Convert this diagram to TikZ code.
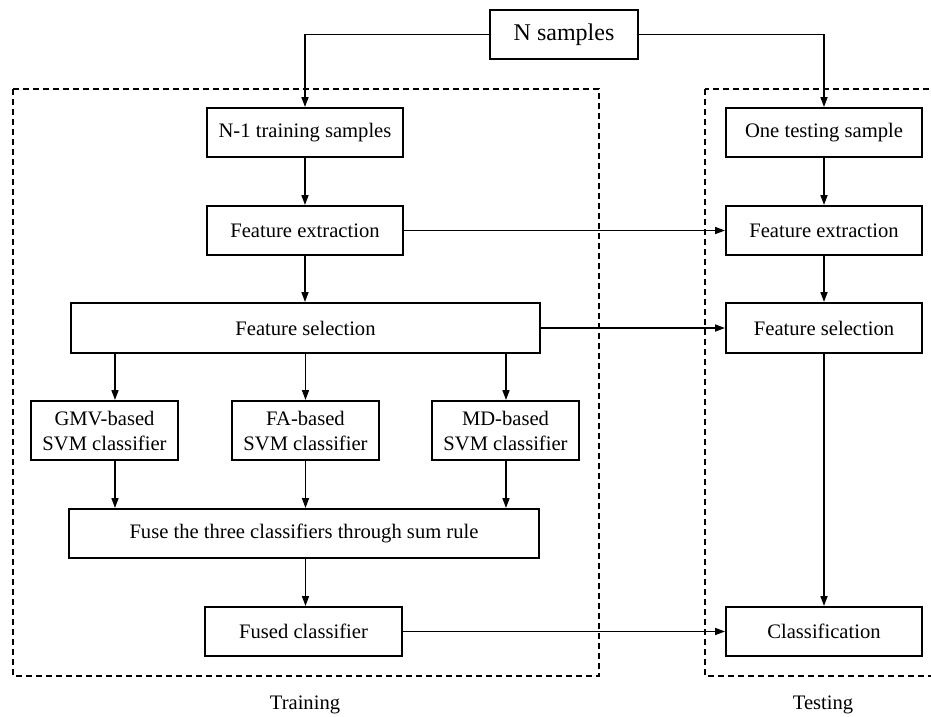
\documentclass[tikz,border=0pt]{standalone}
\usepackage{fontspec}
\setmainfont{Liberation Serif}
\usetikzlibrary{arrows.meta}
\begin{document}
\begin{tikzpicture}[x=1pt,y=-1pt,
  box/.style={draw,line width=2pt,inner sep=0pt,minimum height=49pt,font=\fontsize{20.6}{25}\selectfont,align=center},
  arr/.style={line width=1.6pt,-{Triangle[length=10pt,width=7pt]}},
  region/.style={draw,line width=1.8pt,dash pattern=on 6pt off 4pt},
  lbl/.style={font=\fontsize{20.6}{24}\selectfont}]
\useasboundingbox (0,0) rectangle (931,716);
\draw[region] (13,89) rectangle (599,676);
\draw[region] (705,89) rectangle (960,676);
\node[box,minimum width=148pt,font=\fontsize{24}{28}\selectfont] (ns) at (564,34.5) {N samples};
\node[box,minimum width=196pt] (n1) at (305,132.5) {N-1 training samples};
\node[box,minimum width=196pt] (ot) at (824,132.5) {One testing sample};
\node[box,minimum width=196pt] (feL) at (305,230.5) {Feature extraction};
\node[box,minimum width=196pt] (feR) at (824,230.5) {Feature extraction};
\node[box,minimum width=469pt,minimum height=50pt] (fsL) at (305.5,328) {Feature selection};
\node[box,minimum width=196pt,minimum height=50pt] (fsR) at (824,328) {Feature selection};
\node[box,minimum width=147pt,minimum height=59pt] (gmv) at (104.5,430.5) {GMV-based\\SVM classifier};
\node[box,minimum width=147pt,minimum height=59pt] (fa) at (305.5,430.5) {FA-based\\SVM classifier};
\node[box,minimum width=147pt,minimum height=59pt] (md) at (505.5,430.5) {MD-based\\SVM classifier};
\node[box,minimum width=470pt] (fuse) at (304,533.5) {Fuse the three classifiers through sum rule};
\node[box,minimum width=197pt] (fc) at (303.5,631.5) {Fused classifier};
\node[box,minimum width=196pt] (cl) at (824,631.5) {Classification};
\node[lbl] (tr) at (305,705) {Training};
\node[lbl] (te) at (823,705) {Testing};
\coordinate (xa) at (115,0);
\coordinate (xb) at (305.5,0);
\coordinate (xc) at (506,0);
\draw[arr] (ns.west) -| (n1.north);
\draw[arr] (ns.east) -| (ot.north);
\draw[arr] (n1) -- (feL);
\draw[arr] (ot) -- (feR);
\draw[arr] (feL) -- (fsL.north -| feL);
\draw[arr] (feR) -- (fsR);
\draw[arr] (feL) -- (feR);
\draw[arr] (fsL) -- (fsR);
\draw[arr] (fsL.south -| xa) -- (gmv.north -| xa);
\draw[arr] (fsL.south -| xb) -- (fa.north -| xb);
\draw[arr] (fsL.south -| xc) -- (md.north -| xc);
\draw[arr] (gmv.south -| xa) -- (fuse.north -| xa);
\draw[arr] (fa.south -| xb) -- (fuse.north -| xb);
\draw[arr] (md.south -| xc) -- (fuse.north -| xc);
\draw[arr] (fuse.south -| xb) -- (fc.north -| xb);
\draw[arr] (fsR) -- (cl);
\draw[arr] (fc) -- (cl);
\end{tikzpicture}
\end{document}
